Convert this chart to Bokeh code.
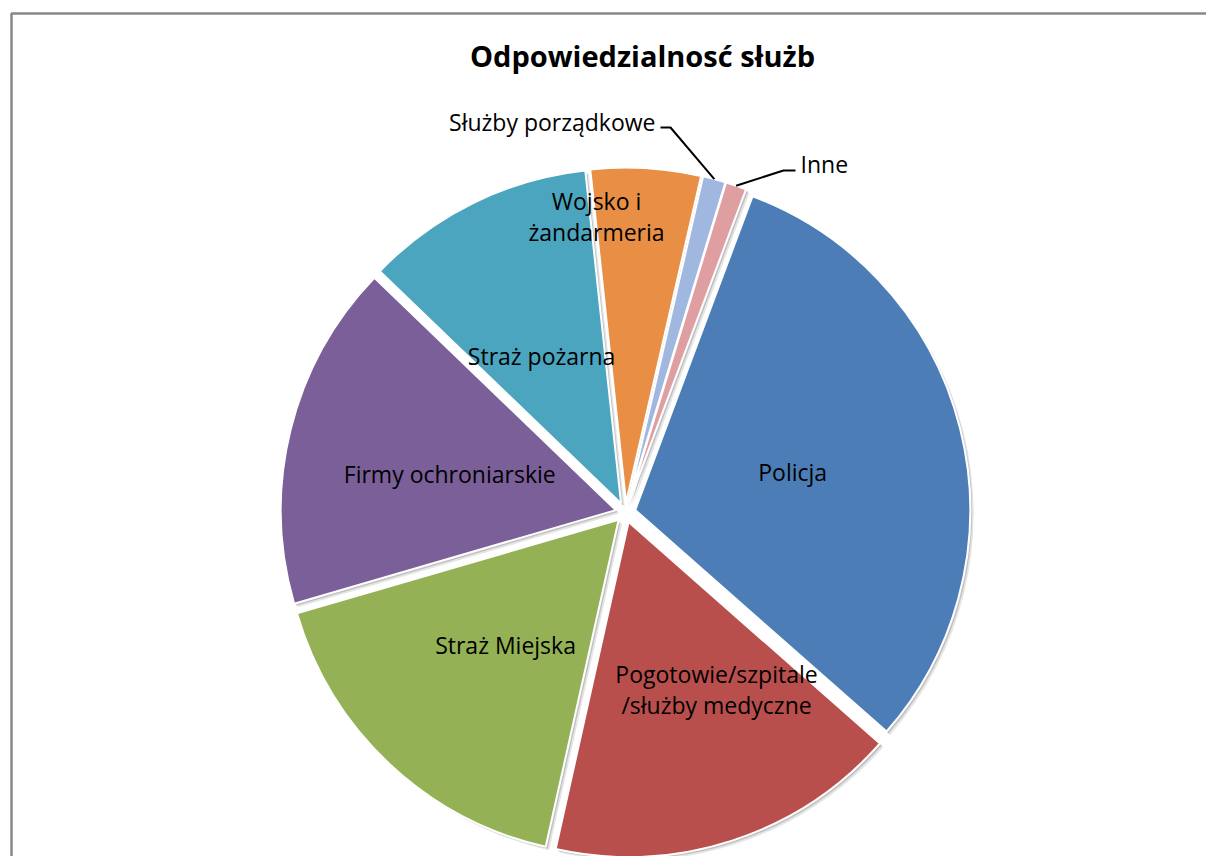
import math
from bokeh.plotting import figure
from bokeh.models import Range1d, ColumnDataSource
from bokeh.core.properties import value
from bokeh.embed import file_html
from bokeh.resources import INLINE

# ---------------- data ----------------
title_text = "Odpowiedzialnosć służb"
categories = ["Policja", "Pogotowie/szpitale/służby medyczne", "Straż Miejska",
              "Firmy ochroniarskie", "Straż pożarna", "Wojsko i żandarmeria",
              "Służby porządkowe", "Inne"]
shares = [30.8, 17.0, 17.0, 16.7, 11.1, 5.3, 1.1, 1.0]
colors = ["#4D7DB6", "#B94F4C", "#94B155", "#7B5F98", "#4BA5BE", "#E98F45",
          "#A0B8DF", "#DF9EA0"]
label_lines = [["Policja"], ["Pogotowie/szpitale", "/służby medyczne"], ["Straż Miejska"],
               ["Firmy ochroniarskie"], ["Straż pożarna"], ["Wojsko i", "żandarmeria"],
               ["Służby porządkowe"], ["Inne"]]

# ---------------- layout ----------------
W, H = 1206, 856
def px(x):  # page x -> data x
    return x
def py(y):  # page y -> data y
    return H - y

CX, CY = px(625), py(512)
R = 335
EXPLODE = 10
START = 20.5  # clock degrees of first slice start

# label placement (distance from centre, angle nudge in degrees); None => outside with leader
label_dist = [172, 199, 179, 180, 178, 297, None, None]
label_shift = [0.5, -9.2, -1.1, -1.4, -2.0, -9.0, 0, 0]
line_gap = 31
FONT = "Open Sans"
LABEL_SIZE = "23px"

p = figure(width=W, height=H, output_backend="svg", toolbar_location=None,
           x_range=Range1d(0, W), y_range=Range1d(0, H),
           x_axis_location=None, y_axis_location=None, min_border=0,
           outline_line_color=None, background_fill_color="white",
           border_fill_color="white")
p.grid.visible = False

# chart-area border (gray, partially visible)
p.line([px(11), px(11), px(1300)], [py(900), py(13), py(13)],
       line_color="#888888", line_width=2.5)

total = sum(shares)
angles = [s / total * 360.0 for s in shares]
starts, ends, mids = [], [], []
a = START
for ang in angles:
    starts.append(a)
    ends.append(a + ang)
    mids.append(a + ang / 2)
    a += ang

def clock_dir(theta):
    t = math.radians(theta)
    return math.sin(t), math.cos(t)

ox, oy, sa, ea = [], [], [], []
for s, e, m in zip(starts, ends, mids):
    dx, dy = clock_dir(m)
    ox.append(CX + EXPLODE * dx)
    oy.append(CY + EXPLODE * dy)
    sa.append(math.radians(90 - e))
    ea.append(math.radians(90 - s))

src = ColumnDataSource(dict(x=ox, y=oy, sa=sa, ea=ea, color=colors, cat=categories))
shadow1 = ColumnDataSource(dict(x=[v + 3.5 for v in ox], y=[v - 3.5 for v in oy], sa=sa, ea=ea))
shadow2 = ColumnDataSource(dict(x=[v + 2 for v in ox], y=[v - 2 for v in oy], sa=sa, ea=ea))

p.wedge(x="x", y="y", radius=R, start_angle="sa", end_angle="ea", source=shadow1,
        fill_color="#000000", fill_alpha=0.10, line_color=None)
p.wedge(x="x", y="y", radius=R, start_angle="sa", end_angle="ea", source=shadow2,
        fill_color="#000000", fill_alpha=0.16, line_color=None)
p.wedge(x="x", y="y", radius=R, start_angle="sa", end_angle="ea", source=src,
        fill_color="color", line_color="white", line_width=2)

# inside labels
tx, ty, tt = [], [], []
for i, lines in enumerate(label_lines):
    if label_dist[i] is None:
        continue
    dx, dy = clock_dir(mids[i] + label_shift[i])
    lx = CX + label_dist[i] * dx
    ly = CY + label_dist[i] * dy
    n = len(lines)
    for k, ln in enumerate(lines):
        tx.append(lx)
        ty.append(ly + ((n - 1) / 2 - k) * line_gap)
        tt.append(ln)
p.text(x=tx, y=ty, text=tt, text_align="center", text_baseline="middle",
       text_font=value(FONT), text_font_size=LABEL_SIZE, text_color="#000000")

# outside labels with leader lines (Służby porządkowe, Inne)
outside = [(6, (670, 127), (660, 127), (655, 121), "right"),
           (7, (783, 170), (795, 170), (800, 163), "left")]
for idx, elbow, end, lab, align in outside:
    dx, dy = clock_dir(mids[idx])
    sx = CX + (R + EXPLODE) * dx
    sy = CY + (R + EXPLODE) * dy
    p.line([sx, px(elbow[0]), px(end[0])], [sy, py(elbow[1]), py(end[1])],
           line_color="#000000", line_width=2)
    p.text(x=[px(lab[0])], y=[py(lab[1])], text=[label_lines[idx][0]],
           text_align=align, text_baseline="middle", text_font=value(FONT),
           text_font_size=LABEL_SIZE, text_color="#000000")

# title
p.text(x=[px(642)], y=[py(55)], text=[title_text], text_align="center",
       text_baseline="middle", text_font=value(FONT), text_font_size="29px",
       text_font_style="bold", text_color="#000000")

open("out.html", "w").write(file_html(p, INLINE))
